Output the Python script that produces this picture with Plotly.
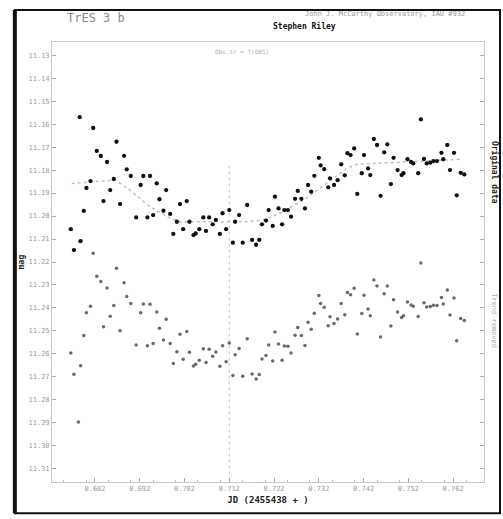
import plotly.graph_objects as go

# JD offsets (2455438 + ) and magnitudes
jd = [0.6766, 0.6773, 0.6788, 0.6786, 0.6795, 0.6801, 0.6810, 0.6816, 0.6824, 0.6833,
      0.6839, 0.6847, 0.6854, 0.6862, 0.6868, 0.6876, 0.6885, 0.6891, 0.6900, 0.6912,
      0.6922, 0.6928, 0.6937, 0.6943, 0.6950, 0.6958, 0.6964, 0.6973, 0.6979, 0.6988,
      0.6995, 0.7003, 0.7010, 0.7017, 0.7025, 0.7031, 0.7040, 0.7045, 0.7053, 0.7062,
      0.7068, 0.7075, 0.7083, 0.7090, 0.7099, 0.7105, 0.7113, 0.7120, 0.7128, 0.7133,
      0.7142, 0.7150, 0.7160, 0.7171, 0.7180, 0.7187, 0.7193, 0.7202, 0.7208, 0.7217,
      0.7222, 0.7230, 0.7238, 0.7243, 0.7251, 0.7258, 0.7267, 0.7273, 0.7281, 0.7289,
      0.7296, 0.7303, 0.7310, 0.7320, 0.7324, 0.7332, 0.7341, 0.7345, 0.7354, 0.7362,
      0.7370, 0.7378, 0.7384, 0.7391, 0.7399, 0.7406, 0.7416, 0.7421, 0.7430, 0.7435,
      0.7443, 0.7450, 0.7458, 0.7466, 0.7473, 0.7481, 0.7487, 0.7496, 0.7505, 0.7509,
      0.7518, 0.7526, 0.7531, 0.7542, 0.7548, 0.7555, 0.7561, 0.7569, 0.7576, 0.7584,
      0.7594, 0.7598, 0.7607, 0.7613, 0.7622, 0.7628, 0.7637, 0.7645]

mag_original = [11.2057, 11.2148, 11.2109, 11.1570, 11.1978, 11.1878, 11.1848, 11.1617, 11.1717, 11.1739,
                11.1935, 11.1765, 11.1887, 11.1839, 11.1677, 11.1948, 11.1738, 11.1797, 11.1826, 11.2006,
                11.1865, 11.1826, 11.2006, 11.1826, 11.1996, 11.1858, 11.1927, 11.1977, 11.1887, 11.1991,
                11.2078, 11.2025, 11.1948, 11.2057, 11.1935, 11.2025, 11.2083, 11.2076, 11.2057, 11.2006,
                11.2065, 11.2006, 11.2036, 11.2017, 11.2078, 11.1988, 11.2057, 11.1974, 11.2116, 11.2025,
                11.1996, 11.2116, 11.1952, 11.2104, 11.2125, 11.2104, 11.2036, 11.2020, 11.1974, 11.2043,
                11.1916, 11.1967, 11.2036, 11.1974, 11.1974, 11.2003, 11.1925, 11.1891, 11.1925, 11.1967,
                11.1865, 11.1894, 11.1825, 11.1747, 11.1780, 11.1796, 11.1875, 11.1836, 11.1865, 11.1844,
                11.1775, 11.1823, 11.1727, 11.1735, 11.1706, 11.1904, 11.1814, 11.1735, 11.1793, 11.1822,
                11.1665, 11.1691, 11.1912, 11.1723, 11.1688, 11.1861, 11.1747, 11.1800, 11.1822, 11.1814,
                11.1753, 11.1765, 11.1771, 11.1814, 11.1580, 11.1752, 11.1771, 11.1768, 11.1761, 11.1761,
                11.1725, 11.1753, 11.1691, 11.1800, 11.1725, 11.1910, 11.1812, 11.1819]

jd_detrended = jd + [0.6783]
mag_detrended = [11.2596, 11.2688, 11.2651, 11.2111, 11.2520, 11.2421, 11.2392, 11.2162, 11.2262, 11.2285,
                 11.2482, 11.2313, 11.2436, 11.2389, 11.2227, 11.2499, 11.2290, 11.2350, 11.2380, 11.2561,
                 11.2421, 11.2383, 11.2564, 11.2384, 11.2555, 11.2418, 11.2488, 11.2539, 11.2449, 11.2554,
                 11.2642, 11.2590, 11.2514, 11.2623, 11.2502, 11.2593, 11.2652, 11.2645, 11.2627, 11.2577,
                 11.2637, 11.2579, 11.2610, 11.2591, 11.2653, 11.2564, 11.2634, 11.2552, 11.2694, 11.2604,
                 11.2576, 11.2697, 11.2534, 11.2687, 11.2709, 11.2689, 11.2622, 11.2607, 11.2561, 11.2631,
                 11.2505, 11.2557, 11.2627, 11.2565, 11.2566, 11.2596, 11.2519, 11.2485, 11.2520, 11.2563,
                 11.2462, 11.2492, 11.2423, 11.2346, 11.2380, 11.2397, 11.2477, 11.2438, 11.2468, 11.2448,
                 11.2380, 11.2429, 11.2333, 11.2342, 11.2314, 11.2513, 11.2424, 11.2345, 11.2404, 11.2434,
                 11.2278, 11.2304, 11.2526, 11.2338, 11.2304, 11.2478, 11.2364, 11.2418, 11.2441, 11.2434,
                 11.2374, 11.2387, 11.2393, 11.2437, 11.2204, 11.2377, 11.2396, 11.2394, 11.2388, 11.2389,
                 11.2354, 11.2383, 11.2322, 11.2431, 11.2357, 11.2543, 11.2446, 11.2454, 11.2896]

trend_jd = [0.6768, 0.6865, 0.6898, 0.6943, 0.6988, 0.7010, 0.7159, 0.7196, 0.7233, 0.7286,
            0.7338, 0.7382, 0.7405, 0.7509, 0.7639]
trend_mag = [11.1858, 11.1843, 11.1887, 11.1960, 11.2010, 11.2025, 11.2025, 11.2017, 11.1988, 11.1930,
             11.1858, 11.1793, 11.1775, 11.1764, 11.1753]

mid_transit = 0.712
x_ticks = [0.682, 0.692, 0.702, 0.712, 0.722, 0.732, 0.742, 0.752, 0.762]
y_ticks = [11.13, 11.14, 11.15, 11.16, 11.17, 11.18, 11.19, 11.20, 11.21, 11.22,
           11.23, 11.24, 11.25, 11.26, 11.27, 11.28, 11.29, 11.30, 11.31]

fig = go.Figure()

fig.add_trace(go.Scatter(x=[mid_transit, mid_transit], y=[11.178, 11.3157], mode="lines",
                         line=dict(color="#c4c4c4", width=1, dash="dot"), hoverinfo="skip",
                         showlegend=False))
fig.add_trace(go.Scatter(x=trend_jd, y=trend_mag, mode="lines",
                         line=dict(color="#c0c0c0", width=1.5, dash="dot"), showlegend=False))
fig.add_trace(go.Scatter(x=jd_detrended, y=mag_detrended, mode="markers",
                         marker=dict(color="#6a6a6a", size=3.5), showlegend=False))
fig.add_trace(go.Scatter(x=jd, y=mag_original, mode="markers",
                         marker=dict(color="#111111", size=4.3), showlegend=False))

fig.update_layout(
    width=503, height=519,
    margin=dict(l=52, r=19, t=42, b=37),
    paper_bgcolor="white", plot_bgcolor="white",
    font=dict(family="DejaVu Sans Mono", color="#999999", size=7),
    xaxis=dict(range=[0.6724, 0.7689], tickvals=x_ticks,
               ticktext=[f"{v:.3f}" for v in x_ticks],
               showgrid=False, zeroline=False, showline=True, linecolor="#c8c8c8",
               linewidth=1, mirror=True, ticks="inside", ticklen=4, tickcolor="#aaaaaa",
               tickfont=dict(size=7, color="#9a9a9a"),
               minor=dict(ticks="inside", ticklen=2, tickcolor="#bbbbbb", dtick=0.005),
               title=dict(text="<b>JD (2455438 + )</b>", font=dict(size=9, color="#222222"),
                          standoff=4)),
    yaxis=dict(range=[11.3157, 11.1243], tickvals=y_ticks,
               ticktext=[f"{v:.2f}" for v in y_ticks],
               showgrid=False, zeroline=False, showline=True, linecolor="#c8c8c8",
               linewidth=1, mirror="ticks", ticks="inside", ticklen=4, tickcolor="#aaaaaa",
               tickfont=dict(size=7, color="#9a9a9a"),
               title=dict(text="<b>mag</b>", font=dict(size=8, color="#222222"), standoff=2)),
)

annotations = [
    dict(text="TrES 3 b", x=0.03, y=1.075, font=dict(size=12, color="#8a8a8a",
         family="DejaVu Sans Mono")),
    dict(text="John J. McCarthy Observatory, IAU #932", x=0.77, y=1.078,
         font=dict(size=7, color="#9a9a9a")),
    dict(text="<b>Stephen Riley</b>", x=0.585, y=1.052, font=dict(size=8, color="#111111")),
    dict(text="Obs.tr = T(OBS)", x=0.44, y=0.99, font=dict(size=6, color="#b0b0b0")),
    dict(text="<b>Original data</b>", x=1.024, y=0.78, textangle=90,
         font=dict(size=8, color="#222222")),
    dict(text="Trend removed", x=1.024, y=0.30, textangle=90,
         font=dict(size=7, color="#aaaaaa")),
]
for a in annotations:
    fig.add_annotation(xref="paper", yref="paper", showarrow=False,
                       xanchor="left" if a["x"] < 0.4 else "center", **a)

# scanned page frame
fig.add_shape(type="rect", xref="paper", yref="paper", x0=-0.086, x1=1.037, y0=-0.071, y1=1.073,
              line=dict(color="#111111", width=2))
fig.add_shape(type="line", xref="paper", yref="paper", x0=-0.086, x1=-0.086, y0=-0.071, y1=1.073,
              line=dict(color="#111111", width=4))

fig.write_html("out.html", config={"displayModeBar": False},
               post_script="document.body.style.margin='0';document.body.style.overflow='hidden';")
